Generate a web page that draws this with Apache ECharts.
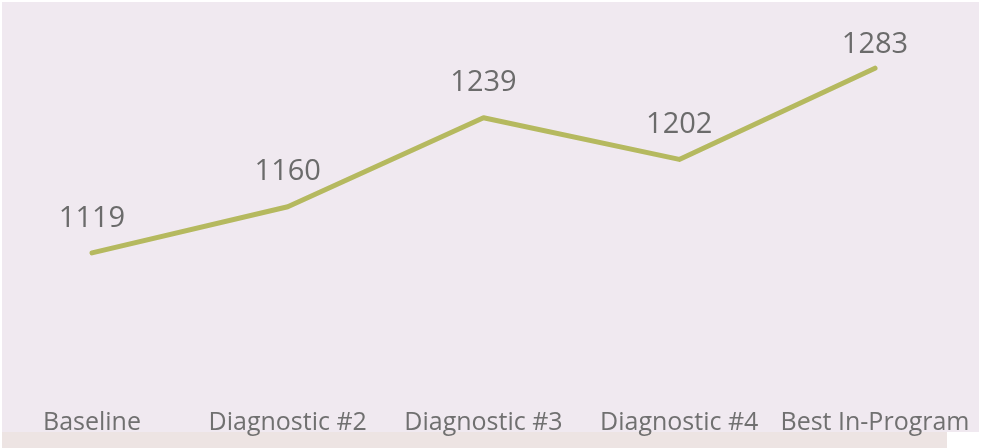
<!DOCTYPE html>
<html>
<head>
<meta charset="utf-8">
<script src="https://cdn.jsdelivr.net/npm/echarts@6/dist/echarts.min.js"></script>
<style>
  html, body { margin: 0; padding: 0; background: #ffffff; }
  #chart { width: 984px; height: 448px; }
</style>
</head>
<body>
<div id="chart"></div>
<script>
var categories = ['Baseline', 'Diagnostic #2', 'Diagnostic #3', 'Diagnostic #4', 'Best In-Program'];
var scores = [1119, 1160, 1239, 1202, 1283];

// the top label sits closer to the line in the original, it is pinned near the top edge
var seriesData = scores.map(function (v, i) {
    if (i === scores.length - 1) {
        return {value: v, label: {distance: 9}};
    }
    return v;
});

var option = {
    backgroundColor: '#ffffff',
    animation: false,
    graphic: [
        {
            type: 'rect',
            z: -10,
            shape: {x: 2, y: 2, width: 977, height: 430},
            style: {fill: '#f0e9f0'}
        },
        {
            type: 'rect',
            z: -10,
            shape: {x: 2, y: 432, width: 945, height: 16},
            style: {fill: '#ede4e3'}
        }
    ],
    grid: {
        left: 92,
        right: 109,
        top: 49,
        bottom: 61
    },
    xAxis: {
        type: 'category',
        boundaryGap: false,
        data: categories,
        axisLine: {show: false},
        axisTick: {show: false},
        axisLabel: {
            color: '#707070',
            fontSize: 25,
            fontFamily: 'Open Sans',
            margin: 23,
            interval: 0
        }
    },
    yAxis: {
        type: 'value',
        min: 1000,
        max: 1300,
        show: false,
        splitLine: {show: false}
    },
    series: [
        {
            type: 'line',
            data: seriesData,
            symbol: 'circle',
            symbolSize: 0,
            showSymbol: true,
            lineStyle: {color: '#b5b95f', width: 5, cap: 'round', join: 'round'},
            itemStyle: {color: '#b5b95f'},
            label: {
                show: true,
                position: 'top',
                distance: 20,
                color: '#6b6b6b',
                fontSize: 29,
                fontFamily: 'Open Sans'
            }
        }
    ]
};
var myChart = echarts.init(document.getElementById('chart'));
myChart.setOption(option);
</script>
</body>
</html>
